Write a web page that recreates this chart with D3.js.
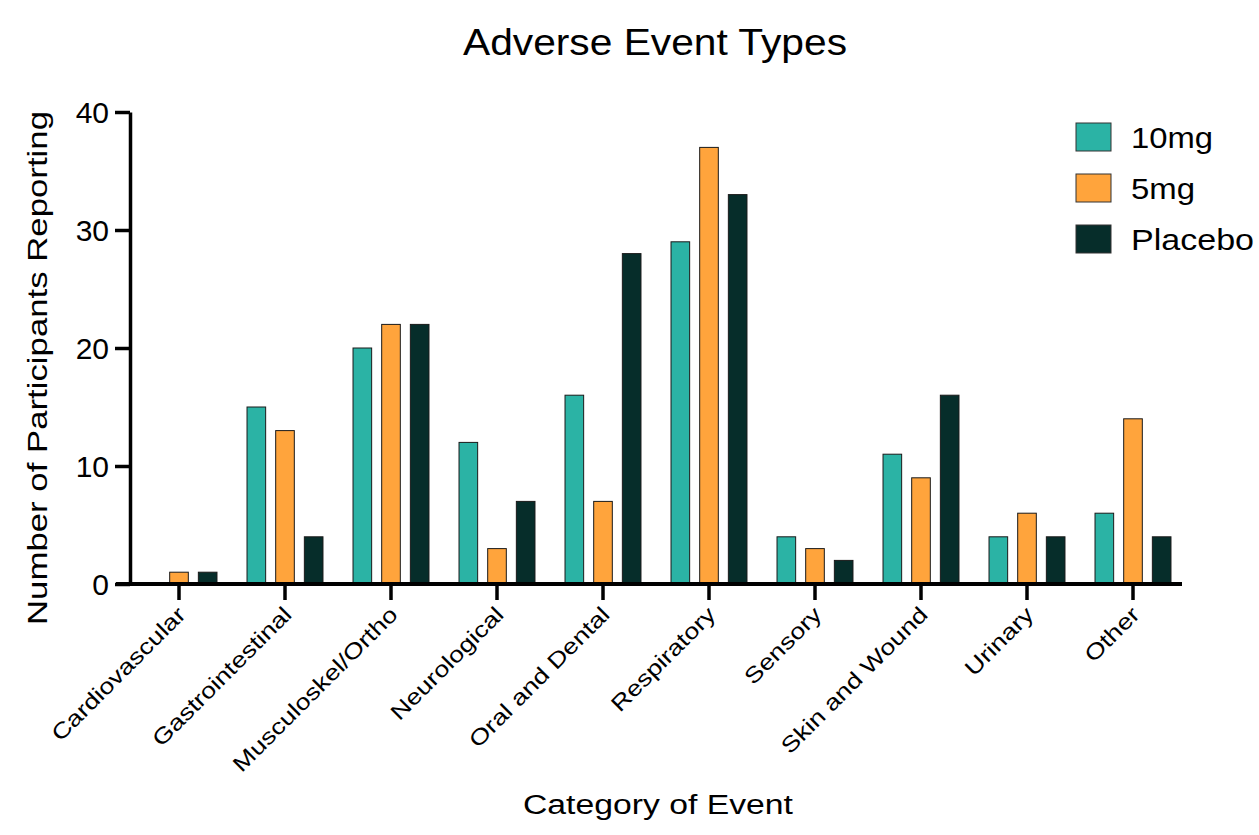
<!DOCTYPE html>
<html>
<head>
<meta charset="utf-8">
<script src="https://cdn.jsdelivr.net/npm/d3@7"></script>
<style>
  body { margin: 0; background: #fff; }
  svg text { font-family: "Liberation Sans", Arial, sans-serif; fill: #000; }
</style>
</head>
<body>
<svg width="1259" height="835"></svg>
<script>
// data
var categories = ["Cardiovascular", "Gastrointestinal", "Musculoskel/Ortho", "Neurological",
  "Oral and Dental", "Respiratory", "Sensory", "Skin and Wound", "Urinary", "Other"];
var seriesNames = ["10mg", "5mg", "Placebo"];
var values10mg   = [0, 15, 20, 12, 16, 29, 4, 11, 4, 6];
var values5mg    = [1, 13, 22, 3, 7, 37, 3, 9, 6, 14];
var valuesPlacebo = [1, 4, 22, 7, 28, 33, 2, 16, 4, 4];
var yTicks = [0, 10, 20, 30, 40];

const color = {
  "10mg": "#2bb3a5",
  "5mg": "#ffa43c",
  "Placebo": "#062d2a"
};

var svg = d3.select("svg");

var seriesValues = {"10mg": values10mg, "5mg": values5mg, "Placebo": valuesPlacebo};
var rows = categories.map(function(c, i) {
  return {cat: c, bars: seriesNames.map(function(s) { return {key: s, value: seriesValues[s][i]}; })};
});

var x = d3.scaleBand().domain(categories).range([126, 1186]);
var xInner = d3.scaleBand().domain(seriesNames).range([-43, 43])
  .paddingInner(0.35).paddingOuter(0.175);
var y = d3.scaleLinear().domain([0, 40]).range([584, 112]);

// bars
var groups = svg.append("g").attr("class", "bars")
  .selectAll("g")
  .data(rows)
  .enter().append("g")
  .attr("transform", function(d) { return "translate(" + (x(d.cat) + x.bandwidth() / 2) + ",0)"; });

groups.selectAll("rect")
  .data(function(d) { return d.bars.filter(function(b) { return b.value > 0; }); })
  .enter().append("rect")
  .attr("x", function(b) { return xInner(b.key); })
  .attr("width", xInner.bandwidth())
  .attr("y", function(b) { return y(b.value); })
  .attr("height", function(b) { return y(0) - y(b.value); })
  .attr("fill", function(b) { return color[b.key]; })
  .attr("stroke", "#1a1a1a")
  .attr("stroke-width", 1);

// y axis
var yAxis = svg.append("g")
  .attr("transform", "translate(130,0)")
  .call(d3.axisLeft(y).tickValues(yTicks).tickSize(15).tickPadding(6).tickSizeOuter(0));
yAxis.select(".domain").attr("stroke-width", 3.5);
yAxis.selectAll(".tick line").attr("stroke-width", 3.5);
yAxis.selectAll(".tick text")
  .style("font-size", "30px")
  .attr("dy", ".36em");

// x axis
var xAxis = svg.append("g")
  .attr("transform", "translate(0,584)")
  .call(d3.axisBottom(x).tickSize(16).tickSizeOuter(0));
xAxis.select(".domain").remove();
xAxis.append("line")
  .attr("x1", 116).attr("x2", 1182)
  .attr("stroke", "#000").attr("stroke-width", 4);
xAxis.selectAll(".tick line").attr("stroke-width", 3.5);
xAxis.selectAll(".tick text")
  .style("font-size", "22px")
  .attr("text-anchor", "end")
  .attr("y", 0).attr("dy", 0)
  .attr("transform", "translate(8,32) rotate(-45)")
  .each(function() {
    var len = this.getComputedTextLength();
    d3.select(this).attr("textLength", len * 1.22).attr("lengthAdjust", "spacingAndGlyphs");
  });

// titles
svg.append("text")
  .attr("x", 655).attr("y", 55)
  .attr("text-anchor", "middle")
  .style("font-size", "36px")
  .attr("textLength", 384).attr("lengthAdjust", "spacingAndGlyphs")
  .text("Adverse Event Types");

svg.append("text")
  .attr("x", 658).attr("y", 814)
  .attr("text-anchor", "middle")
  .style("font-size", "27px")
  .attr("textLength", 270).attr("lengthAdjust", "spacingAndGlyphs")
  .text("Category of Event");

svg.append("text")
  .attr("transform", "translate(47,368) rotate(-90)")
  .attr("text-anchor", "middle")
  .style("font-size", "28px")
  .attr("textLength", 514).attr("lengthAdjust", "spacingAndGlyphs")
  .text("Number of Participants Reporting");

// legend
var legendWidths = {"10mg": 82, "5mg": 64, "Placebo": 123};
var legend = svg.append("g").attr("class", "legend")
  .selectAll("g")
  .data(seriesNames)
  .enter().append("g")
  .attr("transform", function(d, i) { return "translate(1076," + (123 + i * 51) + ")"; });

legend.append("rect")
  .attr("width", 35).attr("height", 28)
  .attr("fill", function(d) { return color[d]; })
  .attr("stroke", "#333").attr("stroke-width", 1);

legend.append("text")
  .attr("x", 55).attr("y", 14)
  .attr("dy", ".36em")
  .style("font-size", "30px")
  .attr("textLength", function(d) { return legendWidths[d]; })
  .attr("lengthAdjust", "spacingAndGlyphs")
  .text(function(d) { return d; });
</script>
</body>
</html>
